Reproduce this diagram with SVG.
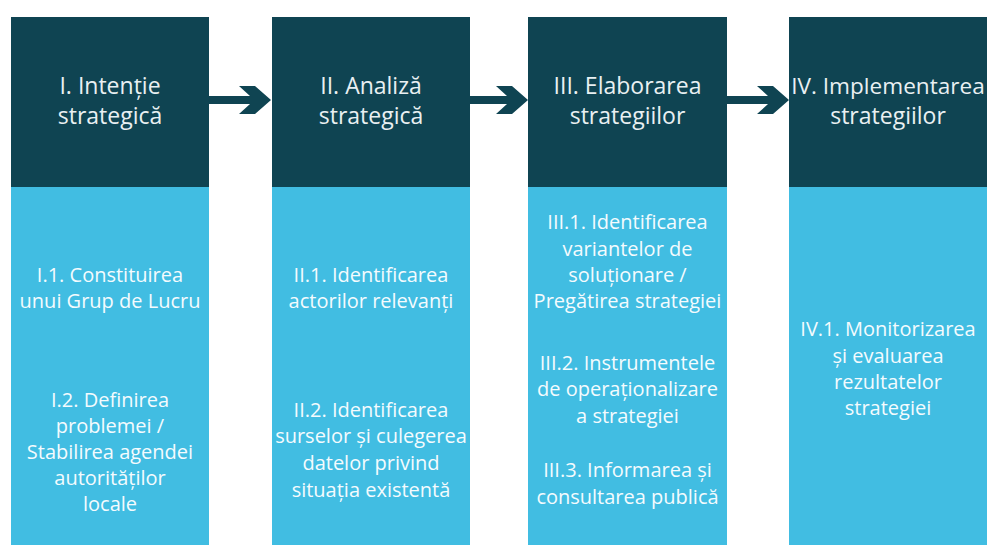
<svg xmlns="http://www.w3.org/2000/svg" width="987" height="545" viewBox="0 0 987 545">
<style>
.hd{fill:#0f4452}
.bd{fill:#41bde2}
.ht{font-family:"Open Sans","Noto Sans",sans-serif;font-size:23px;fill:#e9f0f2;text-anchor:middle}
.bt{font-family:"Open Sans","Noto Sans",sans-serif;font-size:20px;fill:#f4fbfe;text-anchor:middle}
.ar{fill:#0f4452}
</style>
<rect width="987" height="545" fill="#ffffff"/>
<g id="n1">
<rect class="hd" x="11" y="17" width="198" height="170"/>
<rect class="bd" x="11" y="187" width="198" height="358"/>
<text class="ht" x="110" y="94">I. Intenție</text>
<text class="ht" x="110" y="124">strategică</text>
<text class="bt" x="110" y="282">I.1. Constituirea</text>
<text class="bt" x="110" y="308">unui Grup de Lucru</text>
<text class="bt" x="110" y="407">I.2. Definirea</text>
<text class="bt" x="110" y="433">problemei /</text>
<text class="bt" x="110" y="459">Stabilirea agendei</text>
<text class="bt" x="110" y="485">autorităților</text>
<text class="bt" x="110" y="511">locale</text>
</g>
<g id="n2">
<rect class="hd" x="272" y="17" width="198" height="170"/>
<rect class="bd" x="272" y="187" width="198" height="358"/>
<text class="ht" x="371" y="94">II. Analiză</text>
<text class="ht" x="371" y="124">strategică</text>
<text class="bt" x="371" y="282">II.1. Identificarea</text>
<text class="bt" x="371" y="308">actorilor relevanți</text>
<text class="bt" x="371" y="417">II.2. Identificarea</text>
<text class="bt" x="371" y="443">surselor și culegerea</text>
<text class="bt" x="371" y="470">datelor privind</text>
<text class="bt" x="371" y="497">situația existentă</text>
</g>
<g id="n3">
<rect class="hd" x="528" y="17" width="199" height="170"/>
<rect class="bd" x="528" y="187" width="199" height="358"/>
<text class="ht" x="627.5" y="94">III. Elaborarea</text>
<text class="ht" x="627.5" y="124">strategiilor</text>
<text class="bt" x="627.5" y="229">III.1. Identificarea</text>
<text class="bt" x="627.5" y="256">variantelor de</text>
<text class="bt" x="627.5" y="282">soluționare /</text>
<text class="bt" x="627.5" y="308">Pregătirea strategiei</text>
<text class="bt" x="627.5" y="370">III.2. Instrumentele</text>
<text class="bt" x="627.5" y="396">de operaționalizare</text>
<text class="bt" x="627.5" y="423">a strategiei</text>
<text class="bt" x="627.5" y="477">III.3. Informarea și</text>
<text class="bt" x="627.5" y="504">consultarea publică</text>
</g>
<g id="n4">
<rect class="hd" x="789" y="17" width="198" height="170"/>
<rect class="bd" x="789" y="187" width="198" height="358"/>
<text class="ht" x="888" y="94" style="font-size:22.6px">IV. Implementarea</text>
<text class="ht" x="888" y="124">strategiilor</text>
<text class="bt" x="888" y="336">IV.1. Monitorizarea</text>
<text class="bt" x="888" y="363">și evaluarea</text>
<text class="bt" x="888" y="389">rezultatelor</text>
<text class="bt" x="888" y="415">strategiei</text>
</g>
<g id="connectors">
<defs>
<path id="arr" d="M0,-4 L41,-4 L30,-14 L46,-14 L62,0 L46,14 L30,14 L41,4 L0,4 Z"/>
</defs>
<use href="#arr" class="ar" x="209" y="100"/>
<use href="#arr" class="ar" x="466" y="100"/>
<use href="#arr" class="ar" x="727" y="100"/>
</g>
</svg>
